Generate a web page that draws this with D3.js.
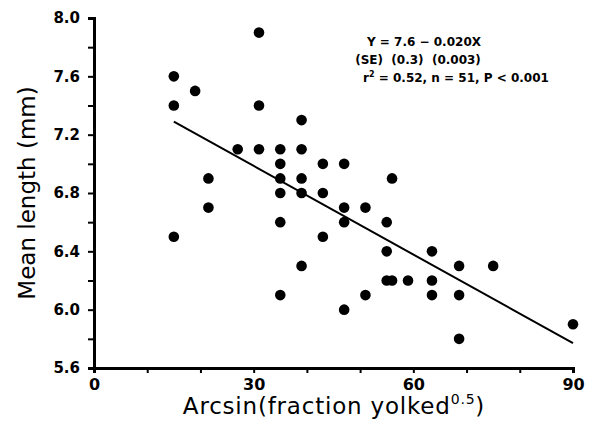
<!DOCTYPE html>
<html><head><meta charset="utf-8">
<script src="https://cdn.jsdelivr.net/npm/d3@7"></script>
<style>body{margin:0;background:#fff}svg{display:block}text{white-space:pre}</style>
</head><body>
<svg id="c" width="593" height="425"></svg>
<script>
const xVals = [15,15,19,31,31,27,31,35,35,35,35,21.5,21.5,15,35,35,39,39,43,47,39,56,39,43,47,51,47,55,43,55,63.5,39,68.6,75,55,56,59,63.5,51,63.5,68.6,47,68.6,90];
const yVals = [7.6,7.4,7.5,7.9,7.4,7.1,7.1,7.1,7.0,6.9,6.8,6.9,6.7,6.5,6.6,6.1,7.3,7.1,7.0,7.0,6.9,6.9,6.8,6.8,6.7,6.7,6.6,6.6,6.5,6.4,6.4,6.3,6.3,6.3,6.2,6.2,6.2,6.2,6.1,6.1,6.1,6.0,5.8,5.9];
const fitX = [15, 90];
const fitY = [7.29, 5.77];
const xTicks = [0,10,20,30,40,50,60,70,80,90];
const xLabels = [0,30,60,90];
const yTicks = [5.6,5.8,6.0,6.2,6.4,6.6,6.8,7.0,7.2,7.4,7.6,7.8,8.0];
const yLabels = [5.6,6.0,6.4,6.8,7.2,7.6,8.0];
const eqLines = ["Y = 7.6 \u2212 0.020X", "(SE)  (0.3)  (0.003)"];

const svg = d3.select("#c");
const x = d3.scaleLinear().domain([0,90]).range([94,573]);
const y = d3.scaleLinear().domain([5.6,8.0]).range([368,18]);

const xa = svg.append("g").attr("transform","translate(0,368)")
  .call(d3.axisBottom(x).tickValues(xTicks).tickSizeOuter(0).tickSize(5)
    .tickFormat(d => xLabels.includes(d) ? d : ""));
const ya = svg.append("g").attr("transform","translate(94,0)")
  .call(d3.axisLeft(y).tickValues(yTicks).tickSizeOuter(0).tickSize(6).tickPadding(8)
    .tickFormat(d => yLabels.some(v=>Math.abs(v-d)<1e-9) ? d.toFixed(1) : ""));
[xa,ya].forEach(g=>{
  g.select(".domain").attr("stroke","#000").attr("stroke-width",3);
  g.selectAll(".tick line").attr("stroke","#000").attr("stroke-width",2);
});
xa.selectAll("text").attr("font-family","DejaVu Sans").attr("font-size",16).attr("font-weight","bold").attr("fill","#000").attr("dy","0.85em");
ya.selectAll("text").attr("font-family","DejaVu Sans").attr("font-size",15).attr("font-weight","bold").attr("fill","#000");

svg.append("line")
  .attr("x1",x(fitX[0])).attr("y1",y(fitY[0]))
  .attr("x2",x(fitX[1])).attr("y2",y(fitY[1]))
  .attr("stroke","#000").attr("stroke-width",2);

svg.append("g").selectAll("circle").data(xVals).join("circle")
  .attr("cx",(d)=>x(d)).attr("cy",(d,i)=>y(yVals[i])).attr("r",5.3).attr("fill","#000");

const t = svg.append("g").attr("font-family","DejaVu Sans").attr("font-weight","bold").attr("font-size",12).attr("fill","#000");
t.append("text").attr("x",424).attr("y",46).attr("text-anchor","middle").text(eqLines[0]);
t.append("text").attr("x",418).attr("y",64).attr("text-anchor","middle").text(eqLines[1]);
const t3 = t.append("text").attr("x",456).attr("y",82).attr("text-anchor","middle");
t3.append("tspan").text("r");
t3.append("tspan").attr("font-size",8).attr("dy",-5).text("2");
t3.append("tspan").attr("dy",5).text(" = 0.52, n = 51, P < 0.001");

const xt = svg.append("text").attr("x",334).attr("y",414).attr("text-anchor","middle")
  .attr("font-family","DejaVu Sans").attr("font-size",23).attr("letter-spacing",0.8).attr("fill","#000");
xt.append("tspan").text("Arcsin(fraction yolked");
xt.append("tspan").attr("font-size",14).attr("dy",-10).text("0.5");
xt.append("tspan").attr("dy",10).text(")");

svg.append("text").attr("transform","translate(35,193) rotate(-90)").attr("text-anchor","middle")
  .attr("font-family","DejaVu Sans").attr("font-size",23).attr("fill","#000").text("Mean length (mm)");
</script>
</body></html>
